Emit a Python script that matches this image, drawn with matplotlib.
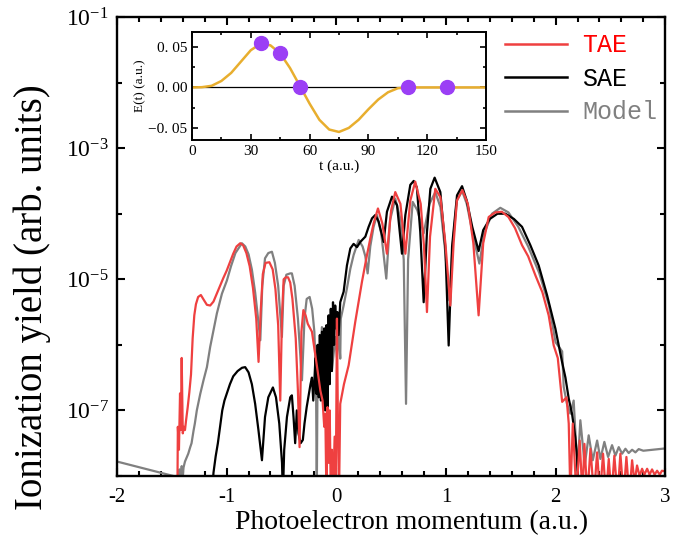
import numpy as np
import matplotlib
matplotlib.use("Agg")
import matplotlib.pyplot as plt
from matplotlib.lines import Line2D

plt.rcParams['font.family'] = ['Liberation Serif', 'DejaVu Serif']
plt.rcParams['mathtext.fontset'] = 'custom'
plt.rcParams['mathtext.rm'] = 'Liberation Serif'
plt.rcParams['mathtext.it'] = 'Liberation Serif:italic'

# ---- main spectra: momentum (a.u.) and log10 of yield ----
tae_x = [-1.46, -1.448, -1.445, -1.435, -1.425, -1.418, -1.41, -1.40, -1.39, -1.38, -1.37,
         -1.355, -1.34, -1.325, -1.31, -1.295, -1.28, -1.26, -1.235, -1.21, -1.18, -1.15,
         -1.12, -1.09, -1.06, -1.03, -1.0, -0.97, -0.94, -0.91, -0.876, -0.85, -0.82, -0.79,
         -0.76, -0.73, -0.709, -0.69, -0.67, -0.645, -0.61, -0.58, -0.555, -0.53, -0.511,
         -0.495, -0.48, -0.46, -0.44, -0.42, -0.40, -0.37, -0.35, -0.335, -0.318, -0.30,
         -0.28, -0.26, -0.222, -0.20, -0.17, -0.145, -0.125, -0.11, -0.10, -0.09, -0.08,
         -0.07, -0.06, -0.05, -0.04, -0.03, -0.015, -0.005, 0.006, 0.015, 0.025, 0.036,
         0.07, 0.113, 0.173, 0.234, 0.28, 0.31, 0.34, 0.38, 0.42, 0.462, 0.50, 0.538, 0.585,
         0.63, 0.675, 0.72, 0.77, 0.80, 0.827, 0.855, 0.903, 0.95, 0.995, 1.04, 1.07, 1.10,
         1.15, 1.20, 1.25, 1.298, 1.34, 1.39, 1.45, 1.51, 1.57, 1.63, 1.694, 1.75, 1.816,
         1.88, 1.937, 1.983, 2.02, 2.06, 2.10, 2.12, 2.135, 2.157, 2.19, 2.22, 2.245, 2.263,
         2.29, 2.318, 2.35, 2.379, 2.405, 2.433, 2.46, 2.485, 2.51, 2.536, 2.565, 2.591,
         2.62, 2.646, 2.672, 2.698, 2.72, 2.743, 2.766, 2.789, 2.81, 2.835, 2.857, 2.88,
         2.903, 2.926, 2.95, 2.97, 3.0]
tae_logy = [-8.3, -8.0, -7.25, -7.6, -6.74, -7.3, -6.20, -7.35, -7.25, -7.30, -7.15,
            -6.95, -6.72, -6.45, -5.9, -5.55, -5.38, -5.27, -5.24, -5.31, -5.39, -5.40,
            -5.34, -5.22, -5.10, -4.98, -4.87, -4.74, -4.61, -4.50, -4.45, -4.48, -4.60, -4.80,
            -5.13, -5.6, -6.26, -5.50, -4.92, -4.75, -4.74, -4.85, -5.15, -5.7, -6.85,
            -5.55, -5.0, -4.97, -4.97, -5.05, -5.3, -5.9, -6.7, -7.56, -5.8, -5.47,
            -5.55, -5.68, -5.80, -6.05, -6.4, -6.7, -6.85, -7.25, -7.05, -8.3, -6.95,
            -7.8, -7.0, -8.3, -7.6, -8.3, -7.4, -8.3, -5.60, -7.2, -8.3, -6.90,
            -6.6, -6.31, -5.65, -5.04, -4.63, -4.38, -4.15, -3.92, -4.15, -4.61, -3.95, -3.67, -3.85,
            -4.61, -3.80, -3.51, -3.85, -4.5, -5.50, -4.35, -3.62, -3.75, -4.45, -5.40, -4.45, -3.80,
            -3.64, -3.85, -4.45, -5.55, -4.45, -4.05, -3.98, -3.97, -4.05, -4.22, -4.48, -4.65, -4.94,
            -5.2, -5.55, -6.01, -6.2, -6.87, -6.80, -7.2, -8.3, -7.20, -8.3, -7.46, -8.3, -7.51,
            -8.3, -7.585, -8.3, -7.64, -8.3, -7.66, -8.3, -7.74, -8.3, -7.69, -8.3, -7.66,
            -8.3, -7.71, -8.3, -7.76, -8.1, -7.84, -8.0, -7.89, -7.98, -7.89, -7.98, -7.90,
            -7.98, -7.92, -7.98, -7.92, -7.93]

sae_x = [-1.134, -1.12, -1.10, -1.08, -1.06, -1.04, -1.02, -1.0, -0.97, -0.94, -0.90, -0.86,
         -0.831, -0.80, -0.77, -0.74, -0.71, -0.678, -0.65, -0.62, -0.578, -0.55, -0.52,
         -0.495, -0.487, -0.475, -0.45, -0.42, -0.405, -0.39, -0.375, -0.36, -0.345, -0.325,
         -0.305, -0.29, -0.27, -0.25, -0.235, -0.222, -0.21, -0.20, -0.19, -0.18, -0.17,
         -0.16, -0.15, -0.14, -0.13, -0.12, -0.11, -0.10, -0.09, -0.08, -0.07, -0.06, -0.05,
         -0.04, -0.03, -0.02, -0.01, 0.0, 0.01, 0.021, 0.036, 0.067, 0.097, 0.128, 0.158,
         0.189, 0.219, 0.265, 0.295, 0.326, 0.356, 0.386, 0.432, 0.462, 0.508, 0.554, 0.599,
         0.63, 0.675, 0.706, 0.735, 0.766, 0.797, 0.827, 0.858, 0.897, 0.949, 0.995, 1.025,
         1.056, 1.101, 1.147, 1.19, 1.24, 1.298, 1.34, 1.40, 1.47, 1.542, 1.62, 1.694, 1.77,
         1.846, 1.922, 1.998, 2.059, 2.09, 2.12, 2.15, 2.18, 2.196, 2.21]
sae_logy = [-8.3, -7.95, -7.7, -7.5, -7.25, -7.0, -6.85, -6.75, -6.6, -6.48, -6.4, -6.35,
            -6.34, -6.42, -6.6, -6.9, -7.3, -7.76, -7.1, -6.8, -6.65, -6.8, -7.2,
            -7.8, -8.3, -7.6, -7.1, -6.8, -6.77, -7.1, -7.5, -7.0, -7.35, -7.5,
            -7.45, -7.2, -6.95, -6.75, -6.6, -6.5, -6.85, -6.55, -6.2, -6.75, -6.0,
            -6.8, -5.85, -6.85, -5.8, -6.9, -5.75, -7.0, -5.7, -7.25, -5.55, -6.6, -5.45,
            -6.4, -5.35, -6.0, -5.4, -5.75, -5.5, -5.85, -5.35, -5.19, -4.79, -4.53, -4.46,
            -4.51, -4.43, -4.35, -4.20, -4.07, -4.02, -4.12, -4.43, -3.97, -3.74, -3.87, -4.61,
            -4.02, -3.56, -3.50, -3.60, -4.28, -5.35, -4.28, -3.62, -3.45, -3.67, -4.53, -6.01,
            -4.50, -3.72, -3.58, -3.80, -4.20, -4.57, -4.25, -4.08, -4.0, -4.0, -4.08, -4.20, -4.48,
            -4.79, -5.24, -5.75, -6.26, -6.5, -6.82, -7.05, -7.41, -7.71, -8.3]

model_x = [-2.0, -1.44, -1.43, -1.42, -1.41, -1.40, -1.393, -1.38, -1.363, -1.35, -1.332,
           -1.32, -1.302, -1.29, -1.272, -1.26, -1.241, -1.211, -1.18, -1.15, -1.12, -1.089,
           -1.043, -0.998, -0.96, -0.92, -0.861, -0.83, -0.80, -0.77, -0.74, -0.72, -0.693,
           -0.675, -0.65, -0.62, -0.587, -0.56, -0.53, -0.496, -0.48, -0.455, -0.42, -0.405,
           -0.38, -0.35, -0.313, -0.29, -0.27, -0.243, -0.22, -0.20, -0.185, -0.178, -0.17,
           -0.146, -0.131, -0.10, -0.07, -0.04, -0.009, 0.006, 0.021, 0.036, 0.041, 0.067,
           0.097, 0.128, 0.158, 0.204, 0.24, 0.265, 0.286, 0.31, 0.34, 0.371, 0.41, 0.456,
           0.49, 0.538, 0.58, 0.615, 0.636, 0.655, 0.697, 0.74, 0.797, 0.85, 0.903, 0.95,
           0.995, 1.03, 1.06, 1.10, 1.147, 1.19, 1.25, 1.305, 1.35, 1.42, 1.496, 1.57, 1.66,
           1.75, 1.85, 1.94, 2.0, 2.06, 2.074, 2.104, 2.135, 2.165, 2.20, 2.226, 2.266, 2.302,
           2.339, 2.379, 2.409, 2.445, 2.479, 2.515, 2.546, 2.576, 2.607, 2.637, 2.667, 2.698,
           2.728, 2.758, 2.80, 3.0]
model_logy = [-7.78, -8.02, -7.9, -8.1, -7.85, -8.0, -7.87, -7.78, -7.71, -7.66, -7.56,
              -7.5, -7.31, -7.2, -7.0, -6.9, -6.75, -6.54, -6.34, -6.03, -5.78, -5.52,
              -5.22, -5.02, -4.8, -4.6, -4.45, -4.5, -4.62, -4.85, -5.2, -5.5, -5.93,
              -5.1, -4.68, -4.6, -4.58, -4.75, -5.1, -5.88, -5.1, -4.93, -4.91, -4.91,
              -5.1, -5.6, -6.54, -5.6, -5.3, -5.27, -5.45, -5.8, -6.5, -8.3, -6.2,
              -6.19, -5.73, -5.98, -6.39, -6.39, -5.88, -6.19, -5.78, -6.21, -5.60, -5.40,
              -5.14, -4.84, -4.63, -4.40, -4.5, -4.65, -4.91, -4.5, -4.20, -4.02, -4.3, -4.99,
              -4.1, -3.77, -4.05, -4.7, -6.90, -4.7, -3.82, -3.95, -4.30, -3.85, -3.67, -3.9,
              -4.6, -5.32, -4.5, -3.8, -3.65, -3.85, -4.35, -4.76, -4.3, -4.0, -3.91, -3.98, -4.2,
              -4.5, -4.9, -5.4, -5.96, -6.1, -6.64, -6.90, -7.05, -6.85, -7.92, -7.15, -7.84, -7.38,
              -7.76, -7.46, -7.74, -7.48, -7.71, -7.53, -7.69, -7.56, -7.66, -7.585, -7.65, -7.60,
              -7.64, -7.59, -7.615, -7.58]

# ---- inset: electric field ----
t_field = [0, 5, 10, 15, 20, 25, 30, 35, 40, 45, 50, 55, 60, 65, 70, 75, 80, 85, 90,
           95, 100, 105, 110, 115, 120, 125, 130, 135, 140, 145, 150]
e_field = [0.0, 0.0003, 0.002, 0.008, 0.018, 0.032, 0.046, 0.054, 0.052, 0.042, 0.024,
           0.002, -0.020, -0.040, -0.052, -0.055, -0.050, -0.040, -0.027, -0.015, -0.006,
           -0.001, 0.0, 0.0, 0.0, 0.0, 0.0, 0.0, 0.0, 0.0, 0.0]
t_dots = [35, 45, 55, 110, 130]
e_dots = [0.055, 0.042, 0.0, 0.0, 0.0]

labels = ['TAE', 'SAE', 'Model']
colors = ['#EF4040', 'black', 'gray']
text_colors = ['red', 'black', 'gray']

fig = plt.figure(figsize=(6.87, 5.58), dpi=100)
ax = fig.add_axes([0.1703, 0.147, 0.798, 0.8225])

series = [(tae_x, tae_logy), (sae_x, sae_logy), (model_x, model_logy)]
# model first, then SAE, then TAE on top
for i in [2, 1, 0]:
    xs, ly = series[i]
    ax.plot(xs, 10 ** np.array(ly), color=colors[i], lw=1.6)

ax.set_yscale('log')
ax.set_xlim(-2, 3)
ax.set_ylim(1e-8, 1e-1)
ax.set_xticks([-2, -1, 0, 1, 2, 3])
ax.set_xticklabels(['-2', '-1', '0', '1', '2', '3'])
ax.set_xticks(np.arange(-2, 3.01, 0.2), minor=True)
ax.set_yticks([1e-7, 1e-5, 1e-3, 1e-1])
ax.set_yticklabels([r'$\mathregular{10^{-7}}$', r'$\mathregular{10^{-5}}$',
                    r'$\mathregular{10^{-3}}$', r'$\mathregular{10^{-1}}$'])
ax.set_yticks([1e-8, 1e-6, 1e-4, 1e-2], minor=True)
ax.yaxis.set_minor_formatter(matplotlib.ticker.NullFormatter())
ax.tick_params(which='both', direction='in', top=True, right=True, width=1.5)
ax.tick_params(axis='x', labelsize=15, pad=9)
ax.tick_params(axis='y', labelsize=17, pad=6)
ax.tick_params(which='major', length=6)
ax.tick_params(which='minor', length=3.5)
for s in ax.spines.values():
    s.set_linewidth(1.7)
ax.set_xlabel('Photoelectron momentum (a.u.)', fontsize=20)
ax.xaxis.set_label_coords(0.538, -0.075)
ax.set_ylabel('Ionization yield (arb. units)', fontsize=28)
ax.yaxis.set_label_coords(-0.12, 0.39)

handles = [Line2D([], [], color=c, lw=1.8) for c in colors]
leg = fig.legend(handles, labels, loc='upper right', bbox_to_anchor=(0.957, 0.94),
                 frameon=False, prop={'family': 'Liberation Mono', 'size': 18},
                 handlelength=2.5, handletextpad=0.6, labelspacing=0.38,
                 borderpad=0, borderaxespad=0)
for txt, c in zip(leg.get_texts(), text_colors):
    txt.set_color(c)

# inset
axi = fig.add_axes([0.2795, 0.749, 0.4279, 0.1937])
axi.axhline(0, color='black', lw=0.9)
axi.plot(t_field, e_field, color='#E8AE2E', lw=1.8)
axi.plot(t_dots, e_dots, 'o', color='#9B3FF5', ms=10, zorder=5)
axi.set_xlim(0, 150)
axi.set_ylim(-0.065, 0.0685)
axi.set_xticks([0, 30, 60, 90, 120, 150])
axi.set_xticks(np.arange(0, 151, 15), minor=True)
axi.set_yticks([-0.05, 0.0, 0.05])
axi.set_yticklabels(['\u22120. 05', '0. 00', '0. 05'])
axi.set_yticks([-0.05, -0.025, 0.0, 0.025, 0.05], minor=True)
axi.tick_params(which='both', direction='in', top=True, right=True, width=1.2, labelsize=11)
axi.tick_params(which='major', length=4)
axi.tick_params(which='minor', length=2.5)
for s in axi.spines.values():
    s.set_linewidth(1.4)
axi.set_xlabel('t (a.u.)', fontsize=11, labelpad=1)
axi.set_ylabel('E(t) (a.u.)', fontsize=9.5, labelpad=1)

fig.savefig('out.png', dpi=100)
